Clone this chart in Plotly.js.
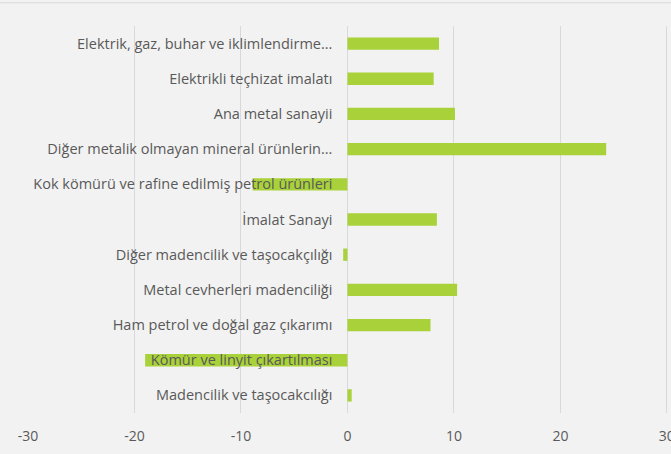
<!DOCTYPE html>
<html>
<head>
<meta charset="utf-8">
<script src="https://cdn.plot.ly/plotly-3.0.1.min.js"></script>
<style>html,body{margin:0;padding:0;background:#f2f2f2;}#chart{width:671px;height:454px;}</style>
</head>
<body>
<div id="chart"></div>
<script>
const categories = [
  "Elektrik, gaz, buhar ve iklimlendirme...",
  "Elektrikli teçhizat imalatı",
  "Ana metal sanayii",
  "Diğer metalik olmayan mineral ürünlerin...",
  "Kok kömürü ve rafine edilmiş petrol ürünleri",
  "İmalat Sanayi",
  "Diğer madencilik ve taşocakçılığı",
  "Metal cevherleri madenciliği",
  "Ham petrol ve doğal gaz çıkarımı",
  "Kömür ve linyit çıkartılması",
  "Madencilik ve taşocakcılığı"
];
const values = [8.6, 8.1, 10.1, 24.3, -8.9, 8.4, -0.4, 10.3, 7.8, -19.0, 0.4];
const xTicks = [-30, -20, -10, 0, 10, 20, 30];

const trace = {
  type: 'bar',
  orientation: 'h',
  x: values,
  y: categories,
  marker: {color: '#a9d23a'},
  hoverinfo: 'x+y'
};

const layout = {
  width: 671,
  height: 454,
  margin: {l: 28, r: 2, t: 26, b: 41},
  paper_bgcolor: '#f2f2f2',
  plot_bgcolor: '#f2f2f2',
  bargap: 0.65,
  showlegend: false,
  font: {family: '"Open Sans", sans-serif', size: 13, color: '#595959'},
  xaxis: {
    range: [-30, 30.2],
    tickvals: xTicks,
    ticktext: xTicks.map(String),
    showgrid: true,
    gridcolor: '#d9d9d9',
    gridwidth: 1,
    zeroline: false,
    showline: false,
    ticks: '',
    ticklabelstandoff: 13,
    ticklabeloverflow: 'allow',
    tickfont: {size: 14, color: '#595959'}
  },
  yaxis: {
    type: 'category',
    autorange: 'reversed',
    anchor: 'free',
    position: 0.4983,
    showgrid: false,
    zeroline: false,
    showline: false,
    ticks: '',
    ticklabelstandoff: 15,
    tickfont: {size: 14.5, color: '#595959'}
  },
  shapes: [{
    type: 'line', xref: 'paper', yref: 'paper',
    x0: -0.05, x1: 1.05, y0: 1.06, y1: 1.06,
    line: {color: '#d9d9d9', width: 1}
  }]
};

Plotly.newPlot('chart', [trace], layout, {displayModeBar: false, staticPlot: true});
</script>
</body>
</html>
